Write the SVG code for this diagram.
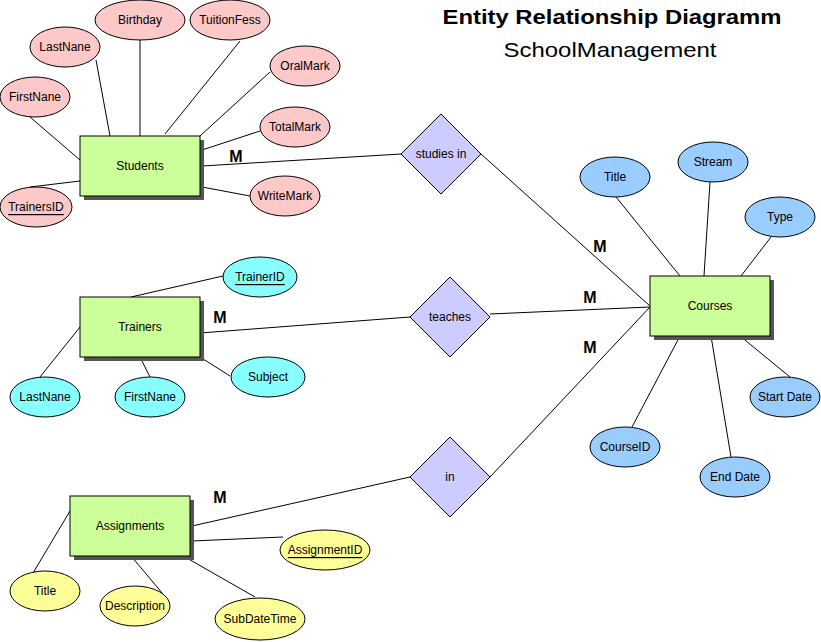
<svg xmlns="http://www.w3.org/2000/svg" width="821" height="642" viewBox="0 0 821 642">
<style>
text{font-family:"Liberation Sans",Arial,sans-serif;font-size:12px;fill:#000;text-anchor:middle;dominant-baseline:central}
.ent rect.b{fill:#ccff99;stroke:#000;stroke-width:1}
.ent rect.s{fill:#555}
.rel polygon{fill:#ccccff;stroke:#000;stroke-width:1}
ellipse{stroke:#000;stroke-width:1}
.pk ellipse{fill:#fcc8c8}
.cy ellipse{fill:#88ffff}
.bl ellipse{fill:#99ccff}
.ye ellipse{fill:#ffff99}
.u{text-decoration:underline}
#connectors line{stroke:#000;stroke-width:1}
.m{font-weight:bold;font-size:16px}
</style>
<g id="title">
<text x="612" y="16" style="font-size:21px;font-weight:bold" textLength="339" lengthAdjust="spacingAndGlyphs">Entity Relationship Diagramm</text>
<text x="610" y="49" style="font-size:21px" textLength="213" lengthAdjust="spacingAndGlyphs">SchoolManagement</text>
</g>
<g id="connectors">
<line x1="96" y1="60" x2="110" y2="136"/>
<line x1="140" y1="40" x2="140" y2="136"/>
<line x1="240" y1="41" x2="165" y2="134"/>
<line x1="270" y1="72" x2="200" y2="136"/>
<line x1="260" y1="131" x2="202" y2="150"/>
<line x1="30" y1="117" x2="80" y2="160"/>
<line x1="30" y1="187" x2="80" y2="181"/>
<line x1="250" y1="196" x2="202" y2="187"/>
<line x1="202" y1="166" x2="401" y2="154"/>
<line x1="481" y1="154" x2="650" y2="306"/>
<line x1="223" y1="276" x2="131" y2="297"/>
<line x1="200" y1="333" x2="410" y2="317"/>
<line x1="490" y1="314" x2="650" y2="307"/>
<line x1="200" y1="357" x2="230" y2="376"/>
<line x1="140" y1="357" x2="150" y2="377"/>
<line x1="80" y1="327" x2="40" y2="377"/>
<line x1="616" y1="197" x2="680" y2="276"/>
<line x1="710" y1="182" x2="704" y2="276"/>
<line x1="771" y1="237" x2="741" y2="276"/>
<line x1="740" y1="336" x2="790" y2="377"/>
<line x1="711" y1="336" x2="731" y2="457"/>
<line x1="680" y1="336" x2="632" y2="427"/>
<line x1="490" y1="477" x2="650" y2="307"/>
<line x1="192" y1="526" x2="410" y2="477"/>
<line x1="70" y1="511" x2="33" y2="573"/>
<line x1="131" y1="556" x2="163" y2="594"/>
<line x1="185" y1="557" x2="255" y2="597"/>
<line x1="192" y1="541" x2="283" y2="537"/>
<text class="m" x="236" y="156">M</text>
<text class="m" x="220" y="317">M</text>
<text class="m" x="220" y="497">M</text>
<text class="m" x="600" y="246">M</text>
<text class="m" x="590" y="297">M</text>
<text class="m" x="590" y="347">M</text>
</g>
<g id="Students" class="ent"><rect class="s" x="84" y="140" width="120" height="60"/><rect class="b" x="80" y="136" width="120" height="60"/><text x="140" y="166">Students</text></g>
<g id="Trainers" class="ent"><rect class="s" x="84" y="301" width="120" height="60"/><rect class="b" x="80" y="297" width="120" height="60"/><text x="140" y="327">Trainers</text></g>
<g id="Assignments" class="ent"><rect class="s" x="74" y="500" width="120" height="60"/><rect class="b" x="70" y="496" width="120" height="60"/><text x="130" y="526">Assignments</text></g>
<g id="Courses" class="ent"><rect class="s" x="654" y="280" width="120" height="60"/><rect class="b" x="650" y="276" width="120" height="60"/><text x="710" y="306">Courses</text></g>
<g id="studies_in" class="rel"><polygon points="441,114 481,154 441,194 401,154"/><text x="441" y="154">studies in</text></g>
<g id="teaches" class="rel"><polygon points="450,277 490,317 450,357 410,317"/><text x="450" y="317">teaches</text></g>
<g id="in" class="rel"><polygon points="450,437 490,477 450,517 410,477"/><text x="450" y="477">in</text></g>
<g id="s_Birthday" class="pk"><ellipse cx="140" cy="20" rx="45" ry="20"/><text x="140" y="20">Birthday</text></g>
<g id="s_TuitionFess" class="pk"><ellipse cx="230" cy="20" rx="40" ry="20"/><text x="230" y="20">TuitionFess</text></g>
<g id="s_LastNane" class="pk"><ellipse cx="65" cy="47" rx="35" ry="20"/><text x="65" y="47">LastNane</text></g>
<g id="s_OralMark" class="pk"><ellipse cx="305" cy="66" rx="35" ry="20"/><text x="305" y="66">OralMark</text></g>
<g id="s_FirstNane" class="pk"><ellipse cx="35" cy="97" rx="35" ry="20"/><text x="35" y="97">FirstNane</text></g>
<g id="s_TotalMark" class="pk"><ellipse cx="295" cy="127" rx="35" ry="20"/><text x="295" y="127">TotalMark</text></g>
<g id="s_WriteMark" class="pk"><ellipse cx="285" cy="196" rx="35" ry="20"/><text x="285" y="196">WriteMark</text></g>
<g id="s_TrainersID" class="pk"><ellipse cx="36" cy="207" rx="36" ry="20"/><text class="u" x="36" y="207">TrainersID</text></g>
<g id="t_TrainerID" class="cy"><ellipse cx="260" cy="277" rx="37" ry="20"/><text class="u" x="260" y="277">TrainerID</text></g>
<g id="t_LastNane" class="cy"><ellipse cx="45" cy="397" rx="35" ry="20"/><text x="45" y="397">LastNane</text></g>
<g id="t_FirstNane" class="cy"><ellipse cx="150" cy="397" rx="35" ry="20"/><text x="150" y="397">FirstNane</text></g>
<g id="t_Subject" class="cy"><ellipse cx="268" cy="377" rx="37" ry="20"/><text x="268" y="377">Subject</text></g>
<g id="c_Title" class="bl"><ellipse cx="615" cy="177" rx="35" ry="20"/><text x="615" y="177">Title</text></g>
<g id="c_Stream" class="bl"><ellipse cx="713" cy="162" rx="35" ry="20"/><text x="713" y="162">Stream</text></g>
<g id="c_Type" class="bl"><ellipse cx="780" cy="217" rx="35" ry="20"/><text x="780" y="217">Type</text></g>
<g id="c_StartDate" class="bl"><ellipse cx="785" cy="397" rx="35" ry="20"/><text x="785" y="397">Start Date</text></g>
<g id="c_EndDate" class="bl"><ellipse cx="735" cy="477" rx="35" ry="20"/><text x="735" y="477">End Date</text></g>
<g id="c_CourseID" class="bl"><ellipse cx="625" cy="447" rx="35" ry="20"/><text x="625" y="447">CourseID</text></g>
<g id="a_Title" class="ye"><ellipse cx="45" cy="591" rx="35" ry="20"/><text x="45" y="591">Title</text></g>
<g id="a_Description" class="ye"><ellipse cx="135" cy="606" rx="35" ry="20"/><text x="135" y="606">Description</text></g>
<g id="a_SubDateTime" class="ye"><ellipse cx="260" cy="619" rx="45" ry="21"/><text x="260" y="619">SubDateTime</text></g>
<g id="a_AssignmentID" class="ye"><ellipse cx="325" cy="550" rx="45" ry="20"/><text class="u" x="325" y="550">AssignmentID</text></g>
</svg>
